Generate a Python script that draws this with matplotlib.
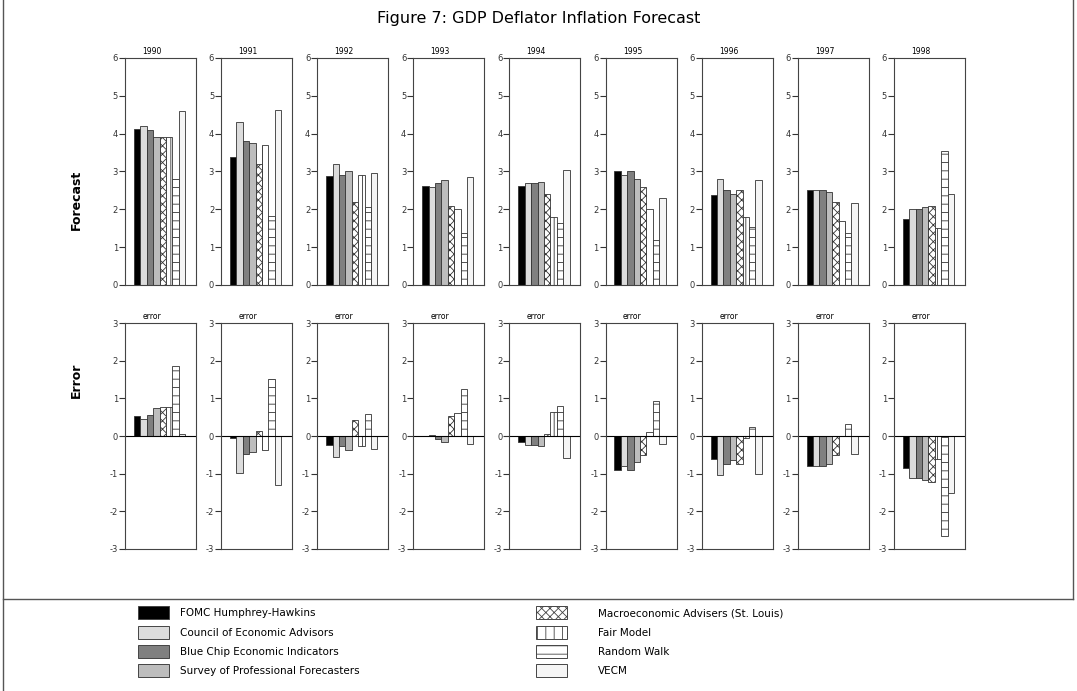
import numpy as np
import matplotlib.pyplot as plt
from matplotlib.patches import Rectangle
from matplotlib.lines import Line2D

years = ["1990", "1991", "1992", "1993", "1994", "1995", "1996", "1997", "1998"]
models = ["FOMC Humphrey-Hawkins", "Council of Economic Advisors",
          "Blue Chip Economic Indicators", "Survey of Professional Forecasters",
          "Macroeconomic Advisers (St. Louis)", "Fair Model", "Random Walk", "VECM"]

# forecasts, one row per year, columns in model order
forecast = [
    [4.12, 4.20, 4.10, 3.90, 3.90, 3.90, 2.80, 4.60],
    [3.38, 4.30, 3.80, 3.76, 3.20, 3.70, 1.82, 4.63],
    [2.87, 3.20, 2.90, 3.00, 2.20, 2.90, 2.05, 2.97],
    [2.62, 2.60, 2.70, 2.78, 2.10, 2.00, 1.37, 2.85],
    [2.62, 2.70, 2.70, 2.72, 2.40, 1.80, 1.65, 3.05],
    [3.00, 2.90, 3.00, 2.80, 2.60, 2.00, 1.18, 2.30],
    [2.37, 2.80, 2.50, 2.40, 2.50, 1.80, 1.52, 2.78],
    [2.50, 2.50, 2.50, 2.45, 2.20, 1.70, 1.38, 2.18],
    [1.75, 2.00, 2.00, 2.05, 2.10, 1.50, 3.55, 2.40],
]
error = [
    [0.54, 0.45, 0.57, 0.75, 0.76, 0.76, 1.85, 0.04],
    [-0.05, -0.97, -0.47, -0.43, 0.13, -0.37, 1.51, -1.30],
    [-0.25, -0.57, -0.27, -0.37, 0.42, -0.27, 0.58, -0.35],
    [0.00, 0.02, -0.07, -0.17, 0.52, 0.62, 1.25, -0.22],
    [-0.17, -0.25, -0.25, -0.27, 0.05, 0.65, 0.80, -0.58],
    [-0.90, -0.80, -0.90, -0.70, -0.50, 0.10, 0.92, -0.20],
    [-0.62, -1.04, -0.74, -0.65, -0.74, -0.04, 0.25, -1.02],
    [-0.80, -0.80, -0.80, -0.75, -0.50, 0.00, 0.32, -0.48],
    [-0.86, -1.11, -1.11, -1.16, -1.21, -0.61, -2.66, -1.51],
]

colors = ["#000000", "#dcdcdc", "#808080", "#bdbdbd", "white", "white", "white", "#f5f5f5"]
hatches = [None, None, None, None, "xxxx", "||", "--", None]

plt.rcParams['hatch.linewidth'] = 0.6
plt.rcParams['axes.unicode_minus'] = False

W, H = 1077, 691
fig = plt.figure(figsize=(W / 100, H / 100), dpi=100)

def fx(px):
    return px / W

def fy(py):
    return 1 - py / H

def style_axis(ax):
    for s in ax.spines.values():
        s.set_color("#444444")
        s.set_linewidth(0.8)
    ax.tick_params(axis='y', labelsize=6, length=4, width=0.8, colors="#333333", pad=1)
    ax.set_xticks([])

x = np.arange(len(models))
for i, yr in enumerate(years):
    left = 125 + 96.1 * i
    # forecast panel
    ax = fig.add_axes([fx(left), fy(285), fx(71), (285 - 58) / H])
    for j in range(len(models)):
        ax.bar(x[j], forecast[i][j], width=1.0, color=colors[j], hatch=hatches[j],
               edgecolor="#333333", linewidth=0.6)
    ax.set_ylim(0, 6)
    ax.set_yticks(range(0, 7))
    ax.set_xlim(-1.9, 9.2)
    style_axis(ax)
    ax.text(0.38, 1.01, yr, transform=ax.transAxes, ha='center', va='bottom', fontsize=5.5)

    # error panel
    ax2 = fig.add_axes([fx(left), fy(549), fx(71), (549 - 323) / H])
    for j in range(len(models)):
        ax2.bar(x[j], error[i][j], width=1.0, color=colors[j], hatch=hatches[j],
                edgecolor="#333333", linewidth=0.6)
    ax2.axhline(0, color="black", linewidth=0.8)
    ax2.set_ylim(-3, 3)
    ax2.set_yticks(range(-3, 4))
    ax2.set_xlim(-1.9, 9.2)
    style_axis(ax2)
    ax2.text(0.38, 1.01, "error", transform=ax2.transAxes, ha='center', va='bottom', fontsize=5.5)

fig.text(0.5, fy(18), "Figure 7: GDP Deflator Inflation Forecast", ha='center', va='center', fontsize=11.5)
fig.text(fx(76), fy(200), "Forecast", rotation=90, ha='center', va='center', fontsize=9, fontweight='bold')
fig.text(fx(76), fy(380), "Error", rotation=90, ha='center', va='center', fontsize=9, fontweight='bold')

# frame and separator
fig.add_artist(Line2D([fx(3), fx(3)], [0, 1], transform=fig.transFigure, color="#555555", lw=1))
fig.add_artist(Line2D([fx(1073), fx(1073)], [fy(599), 1], transform=fig.transFigure, color="#555555", lw=1))
fig.add_artist(Line2D([fx(3), fx(1073)], [fy(599), fy(599)], transform=fig.transFigure, color="#555555", lw=1))

# legend drawn by hand, two columns of four
row_y = [613, 633, 652, 671]
for k, name in enumerate(models):
    col = k // 4
    r = k % 4
    px = 138 if col == 0 else 536
    tx = 180 if col == 0 else 598
    cy = row_y[r]
    rect = Rectangle((fx(px), fy(cy + 6)), fx(31), 13 / H, transform=fig.transFigure,
                     facecolor=colors[k], hatch=hatches[k], edgecolor="#444444", linewidth=0.7)
    fig.add_artist(rect)
    fig.text(fx(tx), fy(cy), name, ha='left', va='center', fontsize=7.5)

fig.savefig("out.png", dpi=100)
